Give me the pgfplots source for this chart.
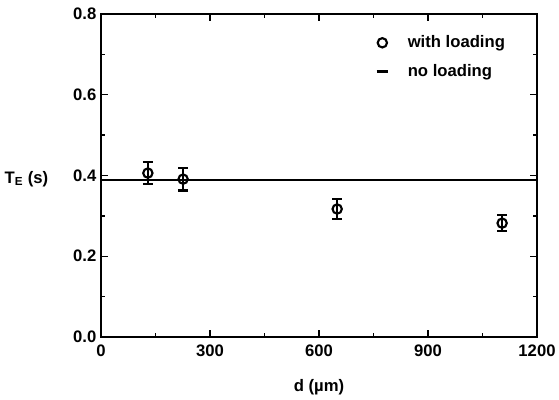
\documentclass[border=0pt]{standalone}
\usepackage{fontspec}
\setmainfont{Liberation Sans}
\usepackage{pgfplots}
\pgfplotsset{compat=1.18}
\def\ff{\fontsize{12.5pt}{14pt}\selectfont\bfseries}
\begin{document}
\begin{tikzpicture}
\useasboundingbox (-75.75pt,-46.5pt) rectangle (343.5pt,252.75pt);
\begin{axis}[
  at={(0,0)}, anchor=south west,
  scale only axis, width=327pt, height=242.25pt,
  xmin=0, xmax=1200, ymin=0, ymax=0.8,
  xtick={0,300,600,900,1200},
  ytick={0,0.2,0.4,0.6,0.8},
  minor x tick num=1, minor y tick num=1,
  tick align=inside,
  major tick length=5pt, minor tick length=3pt,
  every tick/.style={black, line width=1pt},
  axis line style={line width=1.3pt},
  /pgf/number format/assume math mode=true,
  tick label style={font=\ff},
  yticklabel style={/pgf/number format/.cd, fixed, fixed zerofill, precision=1},
  xticklabel style={yshift=-2pt, /pgf/number format/.cd, fixed, 1000 sep={}},
  xlabel={d (µm)},
  ylabel={T\textsubscript{E} (s)},
  every axis y label/.style={at={(axis description cs:0,0.49)}, anchor=east, xshift=-36pt, font=\ff},
  every axis x label/.style={at={(axis description cs:0.5,0)}, anchor=north, yshift=-28pt, font=\ff},
  legend style={draw=none, fill=none, at={(axis description cs:0.62,0.95)}, anchor=north west,
    font=\ff, row sep=7pt},
  legend cell align=left,
]
\addplot[black, only marks, mark=o, mark size=3.5pt, line width=1.6pt,
  error bars/.cd, y dir=both, y explicit, error mark options={rotate=90, mark size=3.8pt, line width=1.6pt},
  error bar style={line width=1.6pt}]
  coordinates {
  (129,0.406) +- (0,0.028)
  (226,0.391) +- (0,0.028)
  (650,0.317) +- (0,0.025)
  (1104,0.282) +- (0,0.02)
};
\addlegendentry{\hspace{12pt}with loading}
\addplot[black, line width=1.4pt, no marks, legend image code/.code={\draw[line width=1.6pt] (0.15cm,0cm) -- (0.45cm,0cm);}] coordinates {(0,0.389) (1200,0.389)};
\addlegendentry{\hspace{12pt}no loading}
\end{axis}
\end{tikzpicture}
\end{document}
